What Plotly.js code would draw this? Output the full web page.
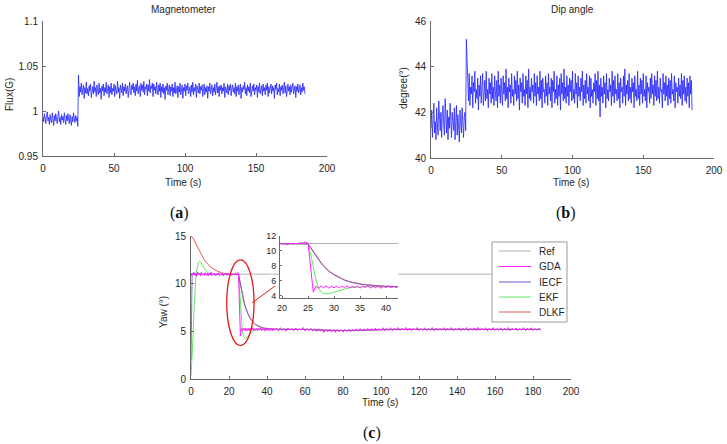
<!DOCTYPE html>
<html>
<head>
<meta charset="utf-8">
<script src="https://cdn.plot.ly/plotly-3.0.1.min.js"></script>
<style>
html, body { margin: 0; padding: 0; background: #ffffff; }
#chart { width: 727px; height: 444px; }
</style>
</head>
<body>
<div id="chart"></div>
<script>
// ---------------- DATA ----------------
// (a) Magnetometer flux (G), sampled every 0.5 s from t = 0
const magStep = 0.5;
const magFlux = [
  0.994, 0.988, 0.997, 0.991, 0.986, 0.995, 0.999, 0.989, 0.993, 0.985,
  0.996, 0.990, 0.987, 0.998, 0.992, 0.984, 0.995, 0.989, 0.997, 0.991,
  0.986, 0.994, 1.000, 0.988, 0.993, 0.985, 0.996, 0.990, 0.994, 0.987,
  0.998, 0.991, 0.985, 0.995, 0.989, 0.997, 0.992, 0.986, 0.996, 0.990,
  0.984, 0.994, 0.988, 0.998, 0.991, 0.987, 0.995, 0.989, 0.993, 0.983,
  1.040,
  1.016, 1.027, 1.021, 1.031, 1.018, 1.024, 1.029, 1.014, 1.026, 1.020,
  1.032, 1.019, 1.025, 1.017, 1.028, 1.022, 1.030, 1.015, 1.024, 1.027,
  1.019, 1.033, 1.021, 1.026, 1.016, 1.029, 1.023, 1.018, 1.031, 1.020,
  1.025, 1.013, 1.028, 1.022, 1.030, 1.017, 1.026, 1.021, 1.032, 1.019,
  1.024, 1.029, 1.015, 1.027, 1.020, 1.031, 1.018, 1.025, 1.022, 1.030,
  1.016, 1.028, 1.023, 1.019, 1.033, 1.021, 1.026, 1.014, 1.029, 1.024,
  1.020, 1.031, 1.017, 1.027, 1.022, 1.030, 1.019, 1.025, 1.028, 1.015,
  1.026, 1.032, 1.021, 1.018, 1.029, 1.024, 1.031, 1.020, 1.027, 1.017,
  1.030, 1.022, 1.034, 1.019, 1.026, 1.028, 1.016, 1.031, 1.023, 1.029,
  1.021, 1.033, 1.018, 1.027, 1.024, 1.030, 1.017, 1.029, 1.022, 1.035,
  1.020, 1.028, 1.025, 1.031, 1.016, 1.030, 1.023, 1.027, 1.019, 1.032,
  1.024, 1.018, 1.029, 1.022, 1.031, 1.015, 1.027, 1.021, 1.030, 1.019,
  1.026, 1.013, 1.028, 1.023, 1.031, 1.018, 1.025, 1.029, 1.017, 1.027,
  1.022, 1.030, 1.016, 1.026, 1.020, 1.032, 1.019, 1.024, 1.028, 1.015,
  1.027, 1.021, 1.031, 1.018, 1.025, 1.029, 1.014, 1.026, 1.022, 1.030,
  1.017, 1.028, 1.023, 1.031, 1.019, 1.025, 1.027, 1.016, 1.029, 1.021,
  1.032, 1.018, 1.026, 1.022, 1.030, 1.015, 1.028, 1.024, 1.020, 1.031,
  1.019, 1.027, 1.023, 1.029, 1.016, 1.025, 1.030, 1.018, 1.026, 1.021,
  1.028, 1.014, 1.027, 1.022, 1.031, 1.019, 1.024, 1.029, 1.017, 1.026,
  1.021, 1.030, 1.018, 1.025, 1.032, 1.020, 1.027, 1.016, 1.028, 1.023,
  1.029, 1.019, 1.026, 1.022, 1.031, 1.015, 1.027, 1.024, 1.020, 1.030,
  1.018, 1.028, 1.023, 1.030, 1.017, 1.025, 1.029, 1.021, 1.026, 1.019,
  1.031, 1.016, 1.027, 1.022, 1.029, 1.018, 1.025, 1.030, 1.014, 1.026,
  1.021, 1.028, 1.024, 1.032, 1.019, 1.026, 1.017, 1.029, 1.022, 1.027,
  1.020, 1.031, 1.016, 1.025, 1.028, 1.022, 1.030, 1.018, 1.026, 1.023,
  1.029, 1.015, 1.027, 1.021, 1.031, 1.019, 1.024, 1.028, 1.017, 1.030,
  1.022, 1.026, 1.018, 1.029, 1.023, 1.031, 1.016, 1.027, 1.020, 1.025,
  1.030, 1.019, 1.028, 1.022, 1.026, 1.014, 1.029, 1.024, 1.031, 1.018,
  1.025, 1.021, 1.030, 1.017, 1.027, 1.023, 1.029, 1.019, 1.026, 1.032,
  1.020, 1.028, 1.016, 1.025, 1.030, 1.022, 1.027, 1.018, 1.029, 1.021,
  1.026, 1.031, 1.019, 1.024, 1.028, 1.015, 1.027, 1.022, 1.030, 1.020,
  1.025, 1.029, 1.018, 1.026, 1.021, 1.031, 1.023, 1.027, 1.019
];

// (b) Dip angle (degree), sampled every 0.5 s from t = 0
const dipStep = 0.5;
const dipAngle = [
  41.3, 42.1, 40.9, 41.8, 42.4, 41.1, 41.6, 40.8, 42.2, 41.5,
  41.0, 42.5, 41.7, 41.2, 42.0, 40.9, 41.9, 42.3, 41.4, 41.0,
  42.6, 41.6, 41.1, 42.1, 40.8, 41.8, 41.3, 42.4, 41.5, 40.9,
  42.0, 41.7, 41.2, 42.2, 40.8, 41.6, 42.3, 41.0, 41.9, 41.4,
  40.7, 42.1, 41.5, 41.1, 42.2, 41.3, 40.9, 41.8, 42.0, 41.2,
  45.2, 44.3,
  43.4, 42.5, 43.7, 42.3, 43.1, 42.8, 43.6, 42.2, 43.3, 42.9,
  43.8, 42.4, 43.0, 42.6, 43.5, 42.1, 43.2, 42.7, 43.6, 42.4,
  43.1, 43.7, 42.3, 42.9, 43.4, 42.5, 43.8, 42.6, 43.0, 42.2,
  43.5, 42.8, 43.3, 42.4, 43.7, 42.6, 43.1, 42.3, 43.6, 42.9,
  42.5, 43.4, 42.2, 43.8, 42.7, 43.2, 42.4, 43.5, 43.0, 42.3,
  43.6, 42.8, 43.3, 42.5, 43.9, 42.6, 43.1, 42.2, 43.5, 42.9,
  43.2, 42.4, 43.7, 42.7, 43.0, 42.3, 43.6, 42.8, 43.4, 42.5,
  43.8, 42.6, 43.2, 42.1, 43.5, 42.9, 43.3, 42.4, 43.7, 42.7,
  43.0, 42.3, 43.6, 42.8, 43.4, 42.2, 43.9, 42.6, 43.1, 42.5,
  43.5, 42.9, 43.2, 42.4, 43.7, 42.7, 43.3, 42.3, 43.6, 42.8,
  43.1, 42.5, 43.8, 42.6, 43.4, 42.2, 43.5, 42.9, 43.0, 42.4,
  43.6, 42.7, 43.3, 42.3, 43.7, 42.8, 43.1, 42.5, 43.5, 42.2,
  43.4, 42.9, 43.8, 42.4, 43.0, 42.6, 43.6, 42.3, 43.2, 42.7,
  43.5, 42.1, 43.7, 42.8, 43.3, 42.5, 43.9, 42.6, 43.1, 42.4,
  43.6, 42.7, 43.2, 42.3, 43.5, 42.9, 43.4, 42.5, 43.8, 42.6,
  43.0, 42.4, 43.7, 42.8, 43.3, 42.2, 43.6, 42.7, 43.1, 42.5,
  43.5, 42.9, 43.8, 42.3, 43.2, 42.6, 43.4, 42.4, 43.7, 42.8,
  43.1, 42.5, 43.6, 42.2, 43.5, 42.7, 43.0, 42.4, 43.3, 42.9,
  43.7, 42.3, 43.4, 42.6, 43.8, 42.5, 43.2, 41.8, 43.5, 42.7,
  43.1, 42.4, 43.6, 42.8, 43.3, 42.2, 43.7, 42.6, 43.0, 42.5,
  43.5, 42.9, 43.2, 42.3, 43.8, 42.7, 43.4, 42.4, 43.6, 42.8,
  43.0, 42.5, 43.7, 42.6, 43.3, 42.2, 43.5, 42.9, 43.1, 42.4,
  43.6, 42.7, 43.9, 42.3, 43.2, 42.8, 43.4, 42.5, 43.7, 42.6,
  43.1, 42.4, 43.5, 42.9, 43.3, 42.2, 43.6, 42.7, 43.0, 42.5,
  43.8, 42.6, 43.2, 42.3, 43.5, 42.8, 43.4, 42.4, 43.7, 42.7,
  43.0, 42.5, 43.6, 42.2, 43.3, 42.9, 43.1, 42.4, 43.5, 42.6,
  43.7, 42.8, 43.2, 42.3, 43.6, 42.7, 43.4, 42.5, 43.8, 42.6,
  43.1, 42.4, 43.5, 42.9, 43.0, 42.2, 43.7, 42.8, 43.3, 42.5,
  43.6, 42.7, 43.2, 42.3, 43.5, 42.6, 43.4, 42.4, 43.7, 42.8,
  43.0, 42.5, 43.6, 42.2, 43.3, 42.9, 43.1, 42.4, 43.5, 42.7,
  43.2, 42.6, 43.7, 42.3, 43.4, 42.8, 43.6, 42.5, 43.1, 42.4,
  43.5, 42.7, 43.3, 42.2, 43.6, 42.8, 43.4, 42.1
];

// (c) Yaw (degree)
const seriesNames = ['Ref', 'GDA', 'IECF', 'EKF', 'DLKF'];

const refTime = [0, 185];
const refYaw  = [11, 11];

// GDA: every 0.5 s from 0 to 44.5 s, then every 1 s from 45 s
const gdaFineStep = 0.5;
const gdaCoarseStart = 45;
const gdaCoarseStep = 1;
const gdaFine = [
  10.8, 11.1, 10.9, 11.2, 10.85, 11.05, 10.75, 11.15, 10.95, 11.1,
  10.8, 11.2, 10.9, 11.0, 10.85, 11.15, 10.9, 11.05, 10.8, 11.1,
  10.95, 11.2, 10.85, 11.0, 10.9, 11.1, 10.8, 11.05, 10.95, 11.15,
  10.85, 11.0, 10.9, 11.1, 10.8, 11.05, 10.95, 11.0, 10.85, 11.1,
  10.9, 11.0, 10.85, 11.05, 10.9, 11.0, 10.95, 11.1, 11.05, 11.2,
  11.05, 8.0, 4.5, 5.3, 5.05, 5.32, 5.08, 5.35, 5.04, 5.3,
  5.08, 5.33, 5.05, 5.3, 5.12, 5.36, 5.07, 5.28, 5.1, 5.34,
  5.04, 5.31, 5.13, 5.37, 5.06, 5.27, 5.11, 5.33, 5.03, 5.29,
  5.12, 5.36, 5.08, 5.28, 5.1, 5.34, 5.05, 5.31, 5.13, 5.27
];
const gdaCoarse = [
  5.32, 5.06, 5.38, 5.1, 5.29, 5.02, 5.35, 5.12, 5.3, 5.05,
  5.36, 5.08, 5.27, 5.13, 5.4, 5.04, 5.31, 5.11, 5.34, 5.07,
  5.26, 5.0, 5.28, 5.04, 5.22, 4.9, 5.19, 4.96, 5.23, 4.93,
  5.2, 4.89, 5.22, 4.95, 5.18, 4.92, 5.21, 4.97, 5.24, 4.94,
  5.23, 4.99, 5.27, 5.01, 5.29, 5.02, 5.26, 5.05, 5.31, 5.04,
  5.29, 5.07, 5.35, 5.06, 5.3, 5.09, 5.37, 5.05, 5.33, 5.1,
  5.38, 5.07, 5.34, 5.11, 5.4, 5.08, 5.32, 5.12, 5.41, 5.09,
  5.36, 5.06, 5.33, 5.13, 5.39, 5.08, 5.3, 5.1, 5.37, 5.07,
  5.32, 5.11, 5.39, 5.05, 5.34, 5.09, 5.31, 5.12, 5.38, 5.06,
  5.33, 5.1, 5.4, 5.08, 5.3, 5.13, 5.37, 5.07, 5.35, 5.11,
  5.39, 5.06, 5.32, 5.12, 5.36, 5.08, 5.41, 5.1, 5.31, 5.13,
  5.38, 5.05, 5.33, 5.11, 5.39, 5.09, 5.3, 5.12, 5.37, 5.07,
  5.34, 5.1, 5.4, 5.06, 5.32, 5.13, 5.36, 5.08, 5.31, 5.11,
  5.39, 5.07, 5.33, 5.12, 5.37, 5.09, 5.3, 5.13, 5.35, 5.1
];

const iecfTime = [
  0, 0.3, 0.6, 1, 1.5, 2, 2.5, 3, 3.5, 4,
  5, 6, 7, 8, 9, 10, 11, 12, 13, 14, 15, 16, 17, 18, 19, 20, 21, 22, 23, 24, 25,
  25.5, 26, 26.5, 27, 27.5, 28, 28.5, 29,
  30, 31, 32, 33, 34, 35, 36, 37, 38,
  40, 42, 45, 50,
  60, 70, 80, 90, 100, 110, 120, 130, 140, 150, 160, 170, 184
];
const iecfYaw = [
  2.0, 9.5, 11.1, 10.95, 11.15, 10.9, 11.1, 10.95, 11.2, 11.0,
  11.1, 10.9, 11.05, 10.95, 11.1, 10.9, 11.05, 11.0, 10.9, 11.05, 10.95, 11.0, 10.9, 11.05, 10.95, 11.0, 10.9, 11.0, 10.95, 10.95, 10.95,
  10.4, 9.85, 9.3, 8.8, 8.35, 7.95, 7.58, 7.28,
  6.8, 6.4, 6.1, 5.87, 5.7, 5.57, 5.48, 5.4, 5.34,
  5.27, 5.23, 5.21, 5.22,
  5.2, 5.12, 5.08, 5.12, 5.18, 5.22, 5.2, 5.22, 5.2, 5.22, 5.2, 5.22, 5.2
];

const ekfTime = [
  0, 0.5, 1, 1.5, 2, 2.5, 3, 3.5, 4, 4.5, 5, 5.5, 6, 6.5, 7, 8, 9, 10, 12, 15, 20, 25,
  25.5, 26, 26.5, 27, 27.5, 28, 28.5, 29, 29.5, 30, 31, 32, 33, 34, 35, 37, 40,
  50, 60, 70, 80, 90, 100, 120, 140, 160, 184
];
const ekfYaw = [
  0.3, 1.8, 4.2, 6.9, 9.0, 10.5, 11.4, 11.95, 12.25, 12.35, 12.3, 12.15, 11.95, 11.75, 11.55, 11.3, 11.12, 11.02, 10.96, 10.95, 10.95, 10.95,
  9.6, 7.8, 6.2, 5.1, 4.55, 4.3, 4.25, 4.3, 4.4, 4.5, 4.75, 4.95, 5.1, 5.17, 5.2, 5.22, 5.2,
  5.22, 5.2, 5.12, 5.08, 5.12, 5.18, 5.2, 5.22, 5.2, 5.2
];

const dlkfTime = [
  0, 1, 2, 3, 4, 5, 6, 7, 8, 9, 10, 11, 12, 13, 14, 15, 16, 17, 18, 20, 22, 25,
  25.5, 26, 26.5, 27, 27.5, 28, 28.5, 29, 30, 31, 32, 33, 34, 35, 36, 37, 38, 40, 42, 45,
  50, 60, 70, 80, 90, 100, 120, 140, 160, 184
];
const dlkfYaw = [
  15.0, 14.8, 14.4, 14.0, 13.6, 13.2, 12.85, 12.5, 12.25, 12.0, 11.8, 11.65, 11.5, 11.4, 11.3, 11.2, 11.15, 11.1, 11.05, 11.0, 10.98, 10.95,
  10.5, 9.95, 9.4, 8.9, 8.45, 8.05, 7.65, 7.35, 6.85, 6.45, 6.15, 5.9, 5.72, 5.6, 5.5, 5.42, 5.36, 5.28, 5.24, 5.22,
  5.22, 5.2, 5.12, 5.08, 5.12, 5.18, 5.2, 5.22, 5.2, 5.2
];

// tick labels
const magTickVals = [0.95, 1, 1.05, 1.1];
const magTickText = ['0.95', '1', '1.05', '1.1'];
const dipTickVals = [40, 42, 44, 46];
const timeTicksAB = [0, 50, 100, 150, 200];
const timeTicksC = [0, 20, 40, 60, 80, 100, 120, 140, 160, 180, 200];
const yawTicks = [0, 5, 10, 15];
const insetXTicks = [20, 25, 30, 35, 40];
const insetYTicks = [4, 6, 8, 10, 12];

// ---------------- BUILD ----------------
const W = 727, H = 444;
const fx = p => p / W;
const fy = p => 1 - p / H;

const magTime = magFlux.map((_, i) => i * magStep);
const dipTime = dipAngle.map((_, i) => i * dipStep);
const gdaTime = gdaFine.map((_, i) => i * gdaFineStep)
  .concat(gdaCoarse.map((_, j) => gdaCoarseStart + j * gdaCoarseStep));
const gdaYaw = gdaFine.concat(gdaCoarse);

const yawSeries = [
  { x: refTime,  y: refYaw,  color: '#b0b0b0', width: 1 },
  { x: gdaTime,  y: gdaYaw,  color: '#ff22ff', width: 1 },
  { x: iecfTime, y: iecfYaw, color: '#6a5acd', width: 1 },
  { x: ekfTime,  y: ekfYaw,  color: '#66e866', width: 1 },
  { x: dlkfTime, y: dlkfYaw, color: '#e05a5a', width: 1 }
];
const drawOrder = [0, 3, 4, 2, 1];

const FONT = 'Liberation Sans, Arial, Helvetica, sans-serif';
const txt = '#262626';
const axc = '#6a6a6a';

const traces = [
  { x: magTime, y: magFlux, xaxis: 'x', yaxis: 'y', type: 'scatter', mode: 'lines',
    line: { color: '#2222ff', width: 0.8 }, showlegend: false, hoverinfo: 'skip' },
  { x: dipTime, y: dipAngle, xaxis: 'x2', yaxis: 'y2', type: 'scatter', mode: 'lines',
    line: { color: '#2222ff', width: 0.8 }, showlegend: false, hoverinfo: 'skip' }
];
['x3', 'x4'].forEach(ax => {
  const ya = ax === 'x3' ? 'y3' : 'y4';
  drawOrder.forEach(i => {
    const s = yawSeries[i];
    traces.push({ x: s.x, y: s.y, name: seriesNames[i], xaxis: ax, yaxis: ya,
      type: 'scatter', mode: 'lines', line: { color: s.color, width: s.width },
      opacity: i === 2 ? 0.85 : 1, showlegend: false, hoverinfo: 'skip' });
  });
});

function axis(extra, size) {
  return Object.assign({
    showgrid: false, zeroline: false, showline: true, linecolor: axc, linewidth: 1,
    ticks: 'inside', ticklen: 3, tickcolor: axc, tickwidth: 1,
    tickfont: { family: FONT, size: size || 10, color: txt },
    tickmode: 'array', automargin: false, fixedrange: true
  }, extra);
}

const layout = {
  width: W, height: H,
  margin: { l: 0, r: 0, t: 0, b: 0, pad: 0 },
  paper_bgcolor: '#ffffff', plot_bgcolor: '#ffffff',
  showlegend: false,
  xaxis:  axis({ domain: [fx(43), fx(327)], range: [0, 200], anchor: 'y', tickvals: timeTicksAB, ticklabelstandoff: 3 }),
  yaxis:  axis({ domain: [fy(156), fy(21)], range: [0.95, 1.1], anchor: 'x', tickvals: magTickVals, ticktext: magTickText, ticklabelstandoff: 2 }),
  xaxis2: axis({ domain: [fx(431), fx(714)], range: [0, 200], anchor: 'y2', tickvals: timeTicksAB, ticklabelstandoff: 3 }),
  yaxis2: axis({ domain: [fy(158), fy(21)], range: [40, 46], anchor: 'x2', tickvals: dipTickVals, ticklabelstandoff: 2 }),
  xaxis3: axis({ domain: [fx(191), fx(571)], range: [0, 200], anchor: 'y3', tickvals: timeTicksC, ticklabelstandoff: 3 }),
  yaxis3: axis({ domain: [fy(379), fy(236)], range: [0, 15], anchor: 'x3', tickvals: yawTicks, ticklabelstandoff: 2 }),
  xaxis4: axis({ domain: [fx(280), fx(398)], range: [19.6, 42.3], anchor: 'y4', tickvals: insetXTicks, ticklen: 2, ticklabelstandoff: 1 }, 9),
  yaxis4: axis({ domain: [fy(298), fy(236)], range: [3.72, 12], anchor: 'x4', tickvals: insetYTicks, ticklen: 2, ticklabelstandoff: 1 }, 9),
  shapes: [],
  annotations: []
};

function label(text, x, y, opts) {
  layout.annotations.push(Object.assign({
    text: text, xref: 'paper', yref: 'paper', x: fx(x), y: fy(y),
    xanchor: 'center', yanchor: 'middle', showarrow: false,
    font: { family: FONT, size: 10, color: txt }
  }, opts || {}));
}

// subplot titles and axis titles
label('Magnetometer', 183, 9);
label('Dip angle', 572, 9);
label('Time (s)', 183, 182);
label('Time (s)', 571, 182);
label('Time (s)', 380, 402);
label('Flux(G)', 9, 95, { textangle: -90 });
label('degree(°)', 404, 88, { textangle: -90 });
label('Yaw (°)', 163, 312, { textangle: -90 });

// panel letters
const serif = { family: 'Liberation Serif, Times New Roman, serif', size: 16, color: '#111' };
label('(<b>a</b>)', 179, 213, { font: serif });
label('(<b>b</b>)', 566, 213, { font: serif });
label('(<b>c</b>)', 372, 433, { font: serif });

// zoom marker: red ellipse and connector (main yaw axes coordinates)
layout.shapes.push({ type: 'circle', xref: 'x3', yref: 'y3', x0: 18.8, x1: 33.2, y0: 3.5, y1: 12.5,
  line: { color: '#e01818', width: 1.3 }, layer: 'above' });
layout.shapes.push({ type: 'line', xref: 'x3', yref: 'y3', x0: 32.2, y0: 8.0, x1: 44.2, y1: 9.75,
  line: { color: '#e01818', width: 1 }, layer: 'above' });

// legend box (manual, compact like the original)
layout.shapes.push({ type: 'rect', xref: 'paper', yref: 'paper',
  x0: fx(492), x1: fx(567), y0: fy(322), y1: fy(242),
  line: { color: '#9a9a9a', width: 1 }, fillcolor: '#ffffff', layer: 'above' });
const legendRows = [251, 266.5, 282, 297, 312];
seriesNames.forEach((n, i) => {
  layout.shapes.push({ type: 'line', xref: 'paper', yref: 'paper',
    x0: fx(499), x1: fx(531), y0: fy(legendRows[i]), y1: fy(legendRows[i]),
    line: { color: yawSeries[i].color, width: 1 }, layer: 'above' });
  label(n, 537, legendRows[i], { xanchor: 'left' });
});

Plotly.newPlot('chart', traces, layout, { staticPlot: true, displayModeBar: false });
</script>
</body>
</html>
